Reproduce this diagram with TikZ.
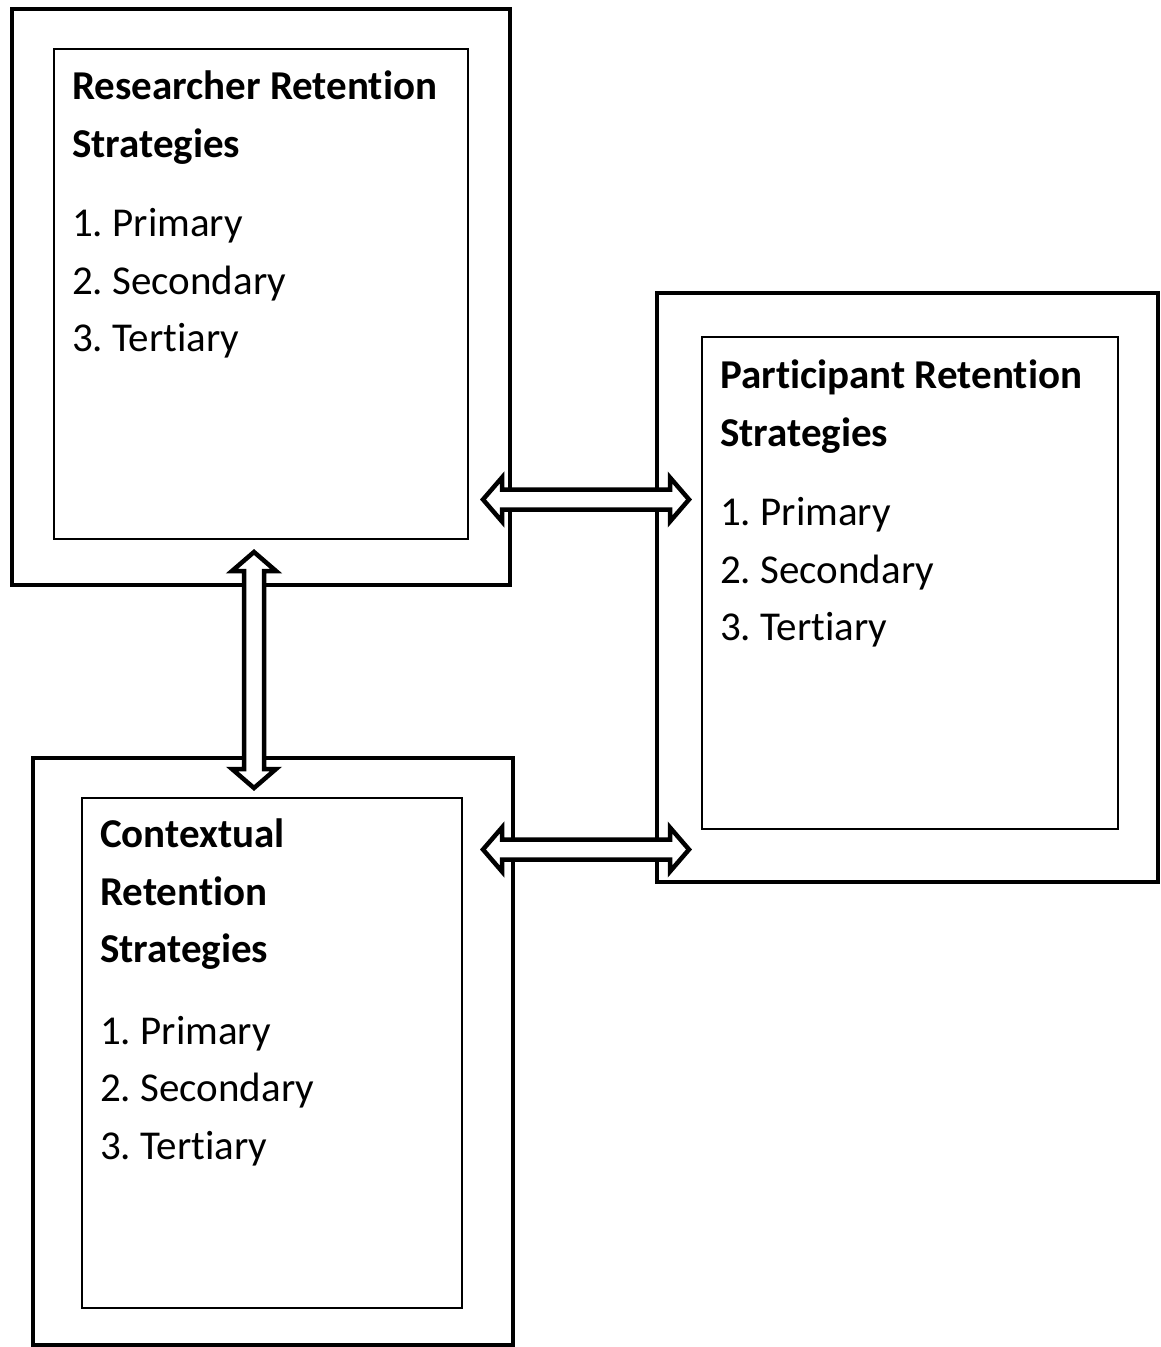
\documentclass[tikz,border=0pt]{standalone}
\usepackage{fontspec}
\setmainfont[Ligatures=NoCommon]{Carlito}
\usetikzlibrary{calc}
\frenchspacing
\begin{document}
\begin{tikzpicture}[x=1pt,y=-1pt,
  outerbox/.style={draw, line width=4.5pt, inner sep=0pt},
  innerbox/.style={draw, line width=1.3pt, inner sep=0pt},
  ttl/.style={anchor=base west, inner sep=0pt, font=\fontsize{41}{48}\selectfont\bfseries},
  itm/.style={anchor=base west, inner sep=0pt, font=\fontsize{41}{48}\selectfont},
  dblarrow/.style={draw, line width=4.5pt, fill=white, miter limit=10}]
\useasboundingbox (0,0) rectangle (1160,1347);
% Researcher box
\node[outerbox, minimum width=498pt, minimum height=576pt] (RO) at (261,297) {};
\node[innerbox, minimum width=414pt, minimum height=490pt] (RI) at (261,294) {};
\node[ttl] (R1) at (72,99) {Researcher Retention};
\node[ttl] (R2) at (72,157) {Strategies};
\node[itm] (R3) at (72,236) {1. Primary};
\node[itm] (R4) at (72,294) {2. Secondary};
\node[itm] (R5) at (72,351) {3. Tertiary};
% Participant box
\node[outerbox, minimum width=501pt, minimum height=589pt] (PO) at (907.5,587.5) {};
\node[innerbox, minimum width=416pt, minimum height=492pt] (PI) at (910,583) {};
\node[ttl] (P1) at (720,388) {Participant Retention};
\node[ttl] (P2) at (720,446) {Strategies};
\node[itm] (P3) at (720,525) {1. Primary};
\node[itm] (P4) at (720,583) {2. Secondary};
\node[itm] (P5) at (720,640) {3. Tertiary};
% Contextual box
\node[outerbox, minimum width=480pt, minimum height=587pt] (CO) at (273,1051.5) {};
\node[innerbox, minimum width=380pt, minimum height=510pt] (CI) at (272,1053) {};
\node[ttl] (C1) at (100,847) {Contextual};
\node[ttl] (C2) at (100,905) {Retention};
\node[ttl] (C3) at (100,962) {Strategies};
\node[itm] (C4) at (100,1044) {1. Primary};
\node[itm] (C5) at (100,1101) {2. Secondary};
\node[itm] (C6) at (100,1159) {3. Tertiary};
% arrows
\coordinate (A1l) at (483,499.5);
\coordinate (A1r) at (689,499.5);
\coordinate (A2l) at (483,849.5);
\coordinate (A2r) at (689,849.5);
\coordinate (A3t) at (254,552);
\coordinate (A3b) at (254,788);
\draw[dblarrow] (A1l) -- ++(19,-22) -- ++(0,12) -- ($(A1r)+(-19,-10)$) -- ++(0,-12) -- (A1r) -- ++(-19,22) -- ++(0,-12) -- ($(A1l)+(19,10)$) -- ++(0,12) -- cycle;
\draw[dblarrow] (A2l) -- ++(19,-22) -- ++(0,12) -- ($(A2r)+(-19,-10)$) -- ++(0,-12) -- (A2r) -- ++(-19,22) -- ++(0,-12) -- ($(A2l)+(19,10)$) -- ++(0,12) -- cycle;
\draw[dblarrow] (A3t) -- ++(22,19) -- ++(-12,0) -- ($(A3b)+(10,-19)$) -- ++(12,0) -- (A3b) -- ++(-22,-19) -- ++(12,0) -- ($(A3t)+(-10,19)$) -- ++(-12,0) -- cycle;
\end{tikzpicture}
\end{document}
